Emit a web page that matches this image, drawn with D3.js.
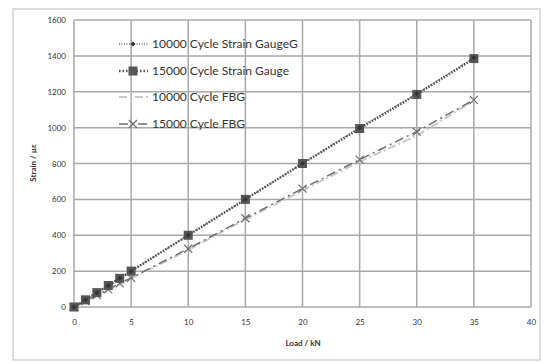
<!DOCTYPE html>
<html><head><meta charset="utf-8">
<script src="https://cdn.jsdelivr.net/npm/d3@7"></script>
<style>body{margin:0;background:#fff;}</style>
</head><body>
<svg id="c" width="547" height="362"></svg>
<script>
const xTicks = [0,5,10,15,20,25,30,35,40];
const yTicks = [0,200,400,600,800,1000,1200,1400,1600];
const loadSG = [0,1,2,3,4,5,10,15,20,25,30,35];
const sg10000 = [0,40,80,120,160,200,400,600,800,1000,1190,1390];
const sg15000 = [0,40,80,120,160,200,400,600,800,995,1185,1385];
const loadFBG = [0,1,2,3,4,5,10,15,20,25,30,35];
const fbg10000 = [0,30,62,95,128,158,318,488,650,810,955,1150];
const fbg15000 = [0,33,66,98,132,162,325,495,660,822,978,1155];
const seriesNames = ["10000 Cycle Strain GaugeG","15000 Cycle Strain Gauge","10000 Cycle FBG","15000 Cycle FBG"];

const svg = d3.select("#c");
const x = d3.scaleLinear().domain([0,40]).range([74,531]);
const y = d3.scaleLinear().domain([0,1600]).range([307,20]);

svg.append("rect").attr("x",13).attr("y",9).attr("width",527).attr("height",351)
  .attr("fill","#fff").attr("stroke","#d4d4d4").attr("stroke-width",1.5);

// gridlines
svg.append("g").selectAll("line").data(yTicks).join("line")
  .attr("x1",x(0)).attr("x2",x(40)).attr("y1",d=>y(d)).attr("y2",d=>y(d))
  .attr("stroke","#a8a8a8").attr("stroke-width",1.5);
svg.append("g").selectAll("line").data(xTicks).join("line")
  .attr("y1",y(0)).attr("y2",y(1600)).attr("x1",d=>x(d)).attr("x2",d=>x(d))
  .attr("stroke","#a8a8a8").attr("stroke-width",1.5);

// axes
const xa = svg.append("g").attr("transform",`translate(0,${y(0)})`)
  .call(d3.axisBottom(x).tickValues(xTicks).tickFormat(d3.format("d")).tickSize(0).tickPadding(12));
const ya = svg.append("g").attr("transform",`translate(${x(0)},0)`)
  .call(d3.axisLeft(y).tickValues(yTicks).tickFormat(d3.format("d")).tickSize(0).tickPadding(8));
[xa,ya].forEach(a=>{a.select(".domain").remove();
  a.selectAll("text").attr("font-family","Lato, sans-serif").attr("font-size",8).attr("fill","#333");});

svg.append("text").attr("x",303).attr("y",346).attr("text-anchor","middle")
  .attr("font-family","Lato, sans-serif").attr("font-size",8).attr("font-weight","bold").attr("fill","#333")
  .text("Load / kN");
svg.append("text").attr("transform","translate(36,163) rotate(-90)").attr("text-anchor","middle")
  .attr("font-family","Lato, sans-serif").attr("font-size",8).attr("font-weight","bold").attr("fill","#333")
  .text("Strain / µε");

const line = d3.line().x(d=>x(d[0])).y(d=>y(d[1]));
const zip = (a,b)=>a.map((v,i)=>[v,b[i]]);

const defs = [
  {data:zip(loadFBG,fbg10000), color:"#c8c8c8", dash:"8,3,2,3", width:2, marker:"none"},
  {data:zip(loadFBG,fbg15000), color:"#6e6e6e", dash:"9,4,2,4", width:1.5, marker:"x"},
  {data:zip(loadSG,sg15000), color:"#555", dash:"1.5,1.5", width:2.5, marker:"square"},
  {data:zip(loadSG,sg10000), color:"#333", dash:"1,1.5", width:1, marker:"diamond"}
];

function drawMarker(g, type, color, cx, cy, s){
  if(type==="square") g.append("rect").attr("x",cx-s).attr("y",cy-s).attr("width",2*s).attr("height",2*s).attr("fill",color);
  else if(type==="x"){ g.append("path").attr("d",`M${cx-s},${cy-s}L${cx+s},${cy+s}M${cx-s},${cy+s}L${cx+s},${cy-s}`).attr("stroke",color).attr("stroke-width",1.2);}
  else if(type==="diamond") g.append("path").attr("d",`M${cx},${cy-s}L${cx+s},${cy}L${cx},${cy+s}L${cx-s},${cy}Z`).attr("fill",color);
}

defs.forEach(d=>{
  svg.append("path").datum(d.data).attr("d",line).attr("fill","none")
    .attr("stroke",d.color).attr("stroke-width",d.width).attr("stroke-dasharray",d.dash);
  const g = svg.append("g");
  d.data.forEach(p=>drawMarker(g,d.marker,d.color,x(p[0]),y(p[1]), d.marker==="square"?4.5:(d.marker==="x"?4:2.5)));
});

// legend
const leg = [
  {name:seriesNames[0], color:"#333", dash:"1,1.5", width:1, marker:"diamond", ms:2.5},
  {name:seriesNames[1], color:"#555", dash:"1.5,2", width:2.5, marker:"square", ms:4.5},
  {name:seriesNames[2], color:"#c8c8c8", dash:"8,3,2,3", width:2, marker:"none", ms:0},
  {name:seriesNames[3], color:"#6e6e6e", dash:"9,4,2,4", width:1.5, marker:"x", ms:4}
];
const ly = [44,71,97,124];
leg.forEach((l,i)=>{
  const g = svg.append("g");
  g.append("line").attr("x1",119).attr("x2",148).attr("y1",ly[i]).attr("y2",ly[i])
    .attr("stroke",l.color).attr("stroke-width",l.width).attr("stroke-dasharray",l.dash);
  drawMarker(g,l.marker,l.color,133,ly[i],l.ms);
  g.append("text").attr("x",152).attr("y",ly[i]+4).attr("font-family","Lato, sans-serif")
    .attr("font-size",12).attr("fill","#333").text(l.name);
});
</script>
</body></html>
